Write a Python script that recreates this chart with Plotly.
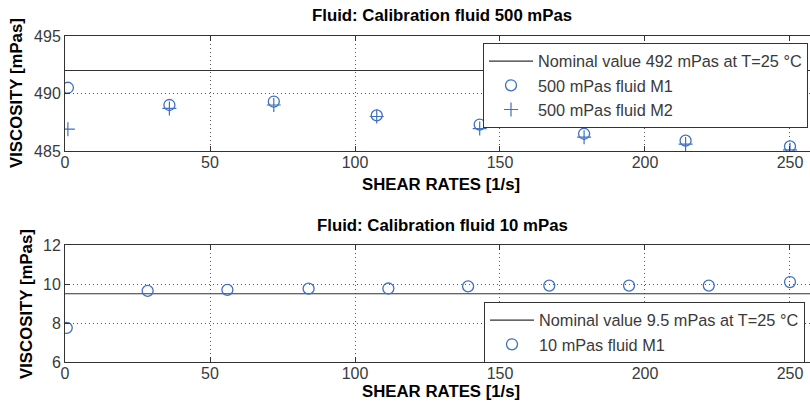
import plotly.graph_objects as go

# ---------------- data ----------------
shear_500_m1 = [1, 36, 72, 107.5, 143, 179, 214, 250]
visc_500_m1 = [490.5, 489.0, 489.3, 488.1, 487.3, 486.5, 485.9, 485.4]
shear_500_m2 = [1, 36, 72, 107.5, 143, 179, 214, 250]
visc_500_m2 = [486.9, 488.7, 489.0, 488.0, 486.95, 486.2, 485.6, 485.1]
nominal_500 = 492

shear_10_m1 = [0.6, 28.5, 56, 84, 111.5, 139, 167, 194.5, 222, 250]
visc_10_m1 = [7.75, 9.65, 9.70, 9.76, 9.77, 9.88, 9.92, 9.92, 9.92, 10.10]
nominal_10 = 9.5

x_limits = [0, 256.9]
x_ticks = [0, 50, 100, 150, 200, 250]
y_ticks_top = [485, 490, 495]
y_ticks_bottom = [6, 8, 10, 12]

title_top = "Fluid: Calibration fluid 500 mPas"
title_bottom = "Fluid: Calibration fluid 10 mPas"
xlabel = "SHEAR RATES [1/s]"
ylabel = "VISCOSITY [mPas]"

# ---------------- style ----------------
W, H = 810, 403
ML = 65
BLUE = "#4070c4"
AXC = "#333333"
TXT = "#3a3a3a"
FONT = "Liberation Sans, Arial, Helvetica, sans-serif"


def px_x(p):
    return (p - ML) / (W - ML)


def px_y(p):
    return (H - p) / H


fig = go.Figure()

# top subplot
fig.add_trace(go.Scatter(x=x_limits, y=[nominal_500, nominal_500], mode="lines",
                         line=dict(color=AXC, width=1.2),
                         name="Nominal value 492 mPas at T=25 °C",
                         xaxis="x", yaxis="y", legend="legend"))
fig.add_trace(go.Scatter(x=shear_500_m1, y=visc_500_m1, mode="markers",
                         marker=dict(symbol="circle-open", size=11, color=BLUE,
                                     line=dict(width=1.3, color=BLUE)),
                         name="500 mPas fluid M1", xaxis="x", yaxis="y", legend="legend"))
fig.add_trace(go.Scatter(x=shear_500_m2, y=visc_500_m2, mode="markers",
                         marker=dict(symbol="cross-thin-open", size=10, color=BLUE,
                                     line=dict(width=1.2, color=BLUE)),
                         name="500 mPas fluid M2", xaxis="x", yaxis="y", legend="legend"))

# bottom subplot
fig.add_trace(go.Scatter(x=x_limits, y=[nominal_10, nominal_10], mode="lines",
                         line=dict(color=AXC, width=1.2),
                         name="Nominal value 9.5 mPas at T=25 °C",
                         xaxis="x2", yaxis="y2", legend="legend2"))
fig.add_trace(go.Scatter(x=shear_10_m1, y=visc_10_m1, mode="markers",
                         marker=dict(symbol="circle-open", size=11, color=BLUE,
                                     line=dict(width=1.3, color=BLUE)),
                         name="10 mPas fluid M1", xaxis="x2", yaxis="y2", legend="legend2"))

axis_common = dict(showline=True, linecolor=AXC, linewidth=1,
                   ticks="inside", ticklen=5, tickcolor=AXC, tickwidth=1,
                   showgrid=True, gridcolor="#555555", griddash="1px,3px", gridwidth=1,
                   zeroline=False, tickfont=dict(size=16, color=TXT, family=FONT))

fig.update_layout(
    width=W, height=H,
    margin=dict(l=ML, r=0, t=0, b=0, autoexpand=False),
    paper_bgcolor="white", plot_bgcolor="white",
    font=dict(family=FONT, size=16, color=TXT),
    showlegend=True,
    xaxis=dict(domain=[0, 1], anchor="y", range=x_limits, tickvals=x_ticks,
               mirror="ticks", ticklabelstandoff=-3, **axis_common),
    yaxis=dict(domain=[px_y(151), px_y(36)], anchor="x", range=[485, 495],
               tickvals=y_ticks_top, mirror=False, **axis_common),
    xaxis2=dict(domain=[0, 1], anchor="y2", range=x_limits, tickvals=x_ticks,
                mirror="ticks", ticklabelstandoff=-3, **axis_common),
    yaxis2=dict(domain=[px_y(362), px_y(245)], anchor="x2", range=[6, 12],
                tickvals=y_ticks_bottom, mirror=False, **axis_common),
    legend=dict(x=px_x(483), y=px_y(43), xanchor="left", yanchor="top",
                bgcolor="white", bordercolor=AXC, borderwidth=1,
                font=dict(size=16.3, color=TXT, family=FONT),
                tracegroupgap=0, itemwidth=44),
    legend2=dict(x=px_x(484), y=px_y(302), xanchor="left", yanchor="top",
                 bgcolor="white", bordercolor=AXC, borderwidth=1,
                 font=dict(size=16.3, color=TXT, family=FONT),
                 tracegroupgap=0, itemwidth=44),
)

ann_font = dict(family=FONT, size=16.8, color="black", weight="bold")
annotations = [
    dict(text=title_top, x=px_x(442), y=px_y(15), xref="paper", yref="paper",
         showarrow=False, font=ann_font, xanchor="center", yanchor="middle"),
    dict(text=title_bottom, x=px_x(442), y=px_y(226), xref="paper", yref="paper",
         showarrow=False, font=ann_font, xanchor="center", yanchor="middle"),
    dict(text=xlabel, x=px_x(441), y=px_y(184.5), xref="paper", yref="paper",
         showarrow=False, font=ann_font, xanchor="center", yanchor="middle"),
    dict(text=xlabel, x=px_x(441), y=px_y(403), xref="paper", yref="paper",
         showarrow=False, font=ann_font, xanchor="center", yanchor="bottom"),
    dict(text=ylabel, x=px_x(17), y=px_y(93), xref="paper", yref="paper",
         showarrow=False, font=ann_font, xanchor="center", yanchor="middle",
         textangle=-90),
    dict(text=ylabel, x=px_x(26), y=px_y(304), xref="paper", yref="paper",
         showarrow=False, font=ann_font, xanchor="center", yanchor="middle",
         textangle=-90),
]
fig.update_layout(annotations=annotations)

fig.write_html("out.html")
